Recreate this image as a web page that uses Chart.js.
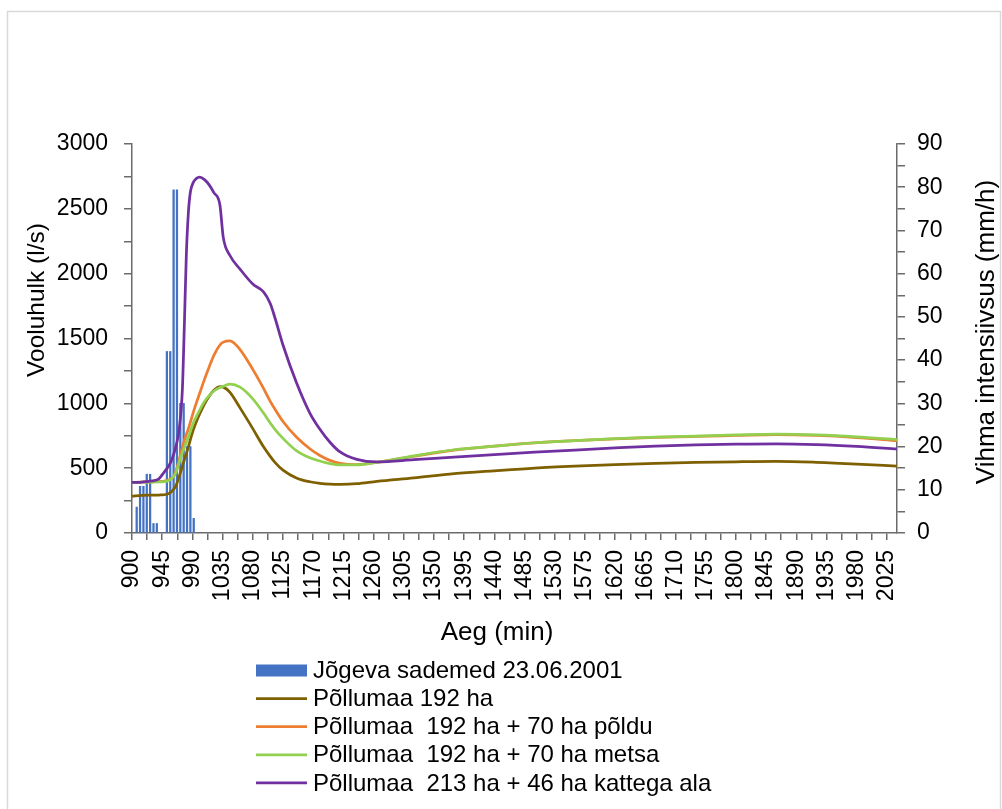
<!DOCTYPE html>
<html>
<head>
<meta charset="utf-8">
<script src="https://cdn.jsdelivr.net/npm/chart.js@4/dist/chart.umd.min.js"></script>
<style>
  html, body { margin: 0; padding: 0; background: #fff; }
  canvas { display: block; }
</style>
</head>
<body>
<canvas id="c" width="1002" height="809"></canvas>
<script>
// ---- Data ----
const times = [900, 915, 930, 940, 948, 955, 960, 965, 970, 975, 978, 981, 984, 987, 991, 996, 1001, 1008, 1015, 1022, 1031, 1036, 1046, 1061, 1080, 1096, 1106, 1113, 1125, 1145, 1165, 1180, 1195, 1210, 1235, 1265, 1320, 1380, 1440, 1500, 1560, 1620, 1680, 1740, 1800, 1860, 1920, 1980, 2040];

const brown192 = [285, 290, 292, 293, 295, 305, 325, 360, 430, 515, 565, 615, 665, 720, 790, 860, 920, 995, 1055, 1100, 1128, 1125, 1085, 965, 805, 665, 591, 545, 485, 425, 395, 383, 377, 375, 380, 398, 425, 457, 480, 501, 516, 528, 537, 544, 549, 552, 545, 532, 515];

const orange192p70 = [390, 392, 395, 397, 400, 410, 425, 470, 560, 660, 715, 760, 805, 855, 925, 1005, 1080, 1185, 1280, 1370, 1450, 1472, 1482, 1415, 1262, 1115, 1015, 955, 860, 740, 650, 598, 560, 538, 528, 545, 592, 640, 670, 695, 712, 726, 737, 745, 752, 759, 752, 736, 712];

const green192m70 = [390, 392, 393, 394, 396, 405, 425, 460, 540, 620, 660, 700, 740, 785, 845, 900, 950, 1015, 1060, 1095, 1122, 1132, 1148, 1125, 1035, 925, 848, 800, 730, 635, 580, 555, 535, 525, 525, 545, 595, 642, 670, 696, 713, 728, 739, 748, 756, 762, 757, 742, 720];

const purple213k46 = [390, 393, 402, 418, 470, 520, 575, 660, 790, 1100, 1600, 2150, 2470, 2630, 2700, 2735, 2745, 2725, 2685, 2625, 2530, 2280, 2140, 2035, 1920, 1860, 1770, 1660, 1450, 1160, 925, 800, 700, 625, 568, 548, 565, 586, 605, 623, 640, 656, 670, 679, 685, 688, 682, 668, 648];

const rainTimes = [907, 912, 917, 922, 927, 932, 937, 942, 947, 952, 957, 962, 967, 972, 977, 982, 987, 992];
const rainMmH   = [6, 10.8, 10.8, 13.6, 13.6, 2.2, 2.2, 0, 0, 42, 42, 79.4, 79.4, 30, 30, 20, 20, 3.4];

const seriesNames = [
  'Jõgeva sademed 23.06.2001',
  'Põllumaa 192 ha',
  'Põllumaa  192 ha + 70 ha põldu',
  'Põllumaa  192 ha + 70 ha metsa',
  'Põllumaa  213 ha + 46 ha kattega ala'
];
const seriesColors = ['#4472C4', '#7F6000', '#ED7D31', '#92D050', '#7030A0'];

const xTitle = 'Aeg (min)';
const yTitle = 'Vooluhulk (l/s)';
const y2Title = 'Vihma intensiivsus (mm/h)';

// ---- Chart ----
const FONT = "'Liberation Sans', Arial, sans-serif";
const AXIS_COLOR = '#6b6b6b';

const pts = (arr) => times.map((t, i) => ({ x: t, y: arr[i] }));

const lineDs = (idx, arr, order) => ({
  type: 'line',
  label: seriesNames[idx],
  data: pts(arr),
  borderColor: seriesColors[idx],
  backgroundColor: seriesColors[idx],
  borderWidth: 2.75,
  pointRadius: 0,
  cubicInterpolationMode: 'monotone',
  fill: false,
  xAxisID: 'x',
  yAxisID: 'y',
  order: order
});

const decorPlugin = {
  id: 'decor',
  beforeDraw(chart) {
    const ctx = chart.ctx;
    ctx.save();
    ctx.fillStyle = '#ffffff';
    ctx.fillRect(0, 0, chart.width, chart.height);
    ctx.strokeStyle = '#D9D9D9';
    ctx.lineWidth = 1.5;
    ctx.strokeRect(7.5, 11.5, 993, 830);
    ctx.restore();
  },
  afterDraw(chart) {
    const ctx = chart.ctx;
    ctx.save();
    ctx.fillStyle = '#000';
    ctx.textAlign = 'center';
    ctx.textBaseline = 'middle';
    // x title
    ctx.font = '26px ' + FONT;
    ctx.fillText(xTitle, 497, 633);
    // left title
    ctx.save();
    ctx.font = '24.5px ' + FONT;
    ctx.translate(37, 300);
    ctx.rotate(-Math.PI / 2);
    ctx.fillText(yTitle, 0, 0);
    ctx.restore();
    // right title
    ctx.save();
    ctx.font = '26px ' + FONT;
    ctx.translate(987, 332);
    ctx.rotate(-Math.PI / 2);
    ctx.fillText(y2Title, 0, 0);
    ctx.restore();

    // legend
    ctx.font = '24px ' + FONT;
    ctx.textAlign = 'left';
    const x0 = 256, x1 = 307, tx = 313, y0 = 670.5, dy = 28.1;
    chart.data.datasets.forEach((ds) => {
      const i = seriesNames.indexOf(ds.label);
      const y = y0 + i * dy;
      if (i === 0) {
        ctx.fillStyle = seriesColors[0];
        ctx.fillRect(x0, y - 6, x1 - x0, 12);
      } else {
        ctx.strokeStyle = seriesColors[i];
        ctx.lineWidth = 2.75;
        ctx.beginPath();
        ctx.moveTo(x0, y);
        ctx.lineTo(x1, y);
        ctx.stroke();
      }
      ctx.fillStyle = '#000';
      ctx.fillText(ds.label, tx, y + 1);
    });
    ctx.restore();
  }
};

new Chart(document.getElementById('c'), {
  data: {
    datasets: [
      lineDs(4, purple213k46, 1),
      lineDs(3, green192m70, 2),
      lineDs(2, orange192p70, 3),
      lineDs(1, brown192, 4),
      {
        type: 'bar',
        label: seriesNames[0],
        data: rainTimes.map((t, i) => ({ x: t, y: rainMmH[i] })),
        backgroundColor: seriesColors[0],
        barThickness: 1.6,
        grouped: false,
        xAxisID: 'x',
        yAxisID: 'y2',
        order: 5
      }
    ]
  },
  options: {
    responsive: false,
    animation: false,
    layout: { padding: { top: 144, left: 0, right: 0, bottom: 0 } },
    plugins: {
      legend: { display: false },
      tooltip: { enabled: false },
      title: { display: false }
    },
    scales: {
      x: {
        type: 'linear',
        position: 'bottom',
        offset: false,
        min: 900,
        max: 2040,
        afterFit: (s) => { s.height = 276; },
        border: { display: true, color: AXIS_COLOR, width: 1.5 },
        grid: { offset: false, drawOnChartArea: false, drawTicks: true, tickLength: 7, color: AXIS_COLOR, lineWidth: 1.5 },
        ticks: {
          stepSize: 22.5,
          includeBounds: false,
          autoSkip: false,
          minRotation: 90,
          maxRotation: 90,
          padding: 10,
          color: '#000',
          font: { family: FONT, size: 23 },
          callback: (v) => (Math.abs((v - 900) % 45) < 1e-6 ? String(Math.round(v)) : '')
        }
      },
      y: {
        type: 'linear',
        position: 'left',
        min: 0,
        max: 3000,
        afterFit: (s) => { s.width = 132; },
        border: { display: true, color: AXIS_COLOR, width: 1.5 },
        grid: { drawOnChartArea: false, drawTicks: true, tickLength: 8, color: AXIS_COLOR, lineWidth: 1.5 },
        ticks: {
          stepSize: 250,
          autoSkip: false,
          padding: 16,
          color: '#000',
          font: { family: FONT, size: 23 },
          callback: (v) => (v % 500 === 0 ? String(v) : '')
        }
      },
      y2: {
        type: 'linear',
        position: 'right',
        min: 0,
        max: 90,
        afterFit: (s) => { s.width = 105; },
        border: { display: true, color: AXIS_COLOR, width: 1.5 },
        grid: { drawOnChartArea: false, drawTicks: true, tickLength: 8, color: AXIS_COLOR, lineWidth: 1.5 },
        ticks: {
          stepSize: 5,
          autoSkip: false,
          padding: 12,
          color: '#000',
          font: { family: FONT, size: 23 },
          callback: (v) => (v % 10 === 0 ? String(v) : '')
        }
      }
    }
  },
  plugins: [decorPlugin]
});
</script>
</body>
</html>
